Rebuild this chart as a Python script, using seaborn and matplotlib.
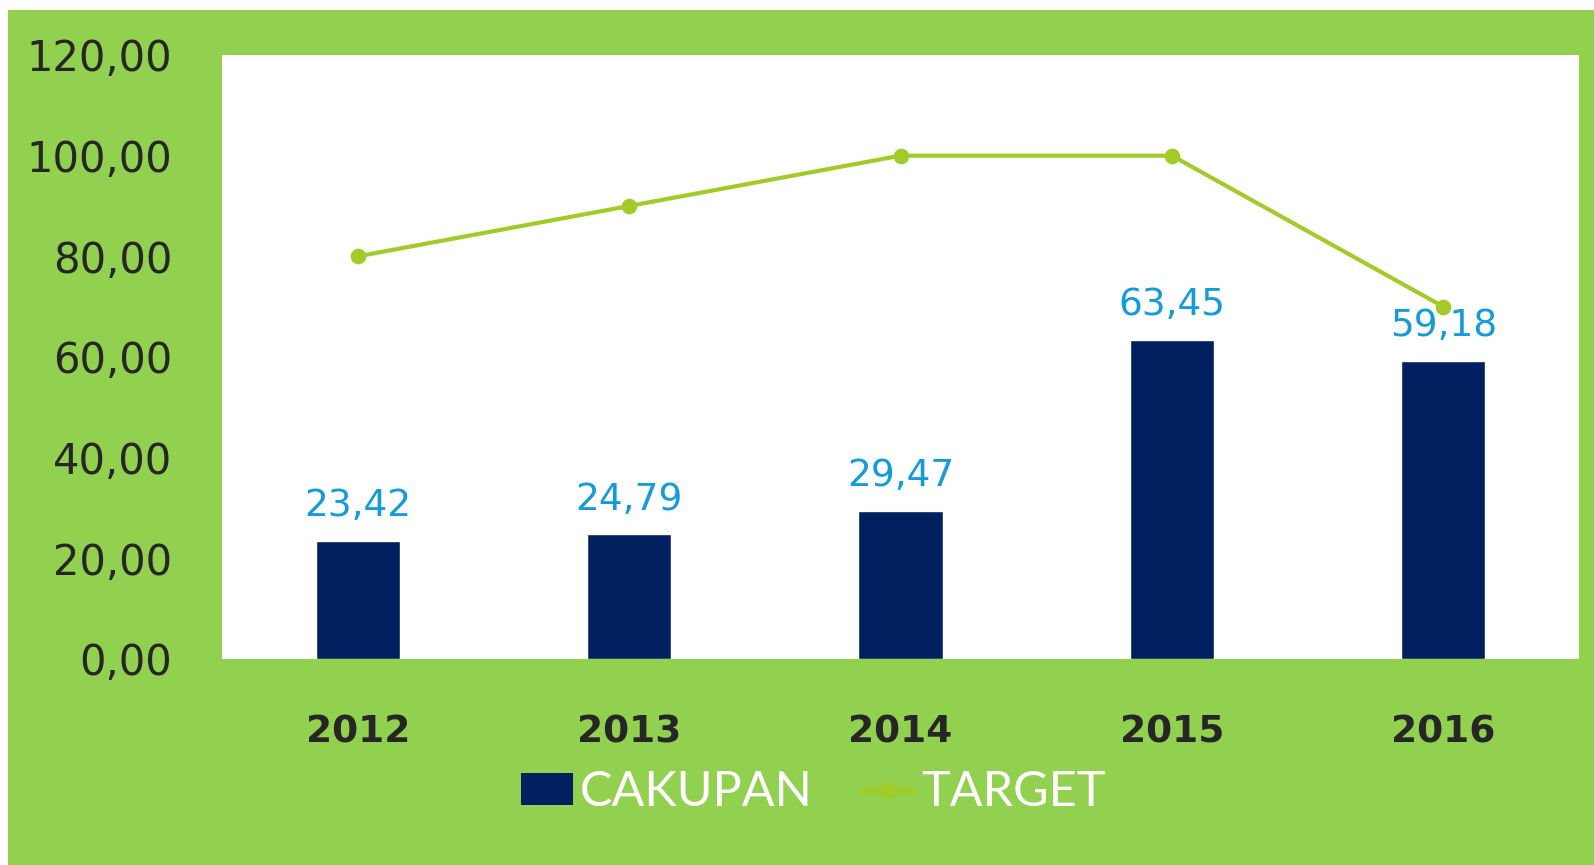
import matplotlib
matplotlib.use("Agg")
import matplotlib.pyplot as plt
import seaborn as sns
import pandas as pd
from matplotlib.ticker import FuncFormatter, MultipleLocator
from matplotlib.patches import Rectangle, Patch
from matplotlib.lines import Line2D

years = ["2012", "2013", "2014", "2015", "2016"]
cakupan = [23.42, 24.79, 29.47, 63.45, 59.18]
target = [80, 90, 100, 100, 70]
series_names = ["CAKUPAN", "TARGET"]

GREEN_BG = "#92D050"
NAVY = "#002060"
LINE = "#A2CB2A"
LABEL = "#139BDB"
DARK = "#262626"

sns.set_theme(style="white")
plt.rcParams["font.family"] = ["DejaVu Sans"]

df = pd.DataFrame({"year": years, "cakupan": cakupan, "target": target})

fig = plt.figure(figsize=(15.94, 8.65), dpi=100)
fig.patch.set_facecolor("white")
bg = Rectangle((8 / 1594, 0), 1 - 8 / 1594, 1 - 10 / 865,
               transform=fig.transFigure, facecolor=GREEN_BG,
               edgecolor="none", zorder=-10)
fig.add_artist(bg)

ax = fig.add_axes([222 / 1594, 1 - 659 / 865, (1579 - 222) / 1594, (659 - 55) / 865])
ax.set_zorder(1)
ax.set_facecolor("white")

sns.barplot(data=df, x="year", y="cakupan", color=NAVY, width=0.31,
            saturation=1, ax=ax, zorder=2)
sns.pointplot(data=df, x="year", y="target", color=LINE, markers="o",
              linestyles="-", markersize=9, linewidth=3, ax=ax, zorder=3)

for i, v in enumerate(cakupan):
    ax.annotate(f"{v:.2f}".replace(".", ","), (i, v), xytext=(0, 12),
                textcoords="offset points", ha="center", va="bottom",
                fontsize=27, color=LABEL, zorder=4)

ax.set_ylim(0, 120)
ax.set_xlim(-0.5, 4.5)
ax.yaxis.set_major_locator(MultipleLocator(20))
ax.yaxis.set_major_formatter(FuncFormatter(lambda v, p: f"{v:.2f}".replace(".", ",")))
ax.set_xlabel("")
ax.set_ylabel("")
for s in ax.spines.values():
    s.set_visible(False)
ax.tick_params(axis="y", length=0, pad=36, labelsize=30, labelcolor=DARK)
ax.tick_params(axis="x", length=0, pad=40, labelsize=27, labelcolor=DARK)
for t in ax.get_xticklabels():
    t.set_fontweight("bold")
ax.grid(False)

handles = [Patch(facecolor=NAVY, edgecolor="none"),
           Line2D([0], [0], color=LINE, lw=5, marker="o", markersize=11)]
leg = fig.legend(handles, series_names, loc="center", bbox_to_anchor=(813 / 1594, 1 - 792 / 865),
                 ncol=2, frameon=False, handlelength=1.07, handleheight=0.62,
                 handletextpad=0.15, columnspacing=1.0,
                 prop={"size": 35, "family": ["Lato", "DejaVu Sans"]})
for t in leg.get_texts():
    t.set_color("white")

fig.savefig("out.png", dpi=100, facecolor=fig.get_facecolor())
